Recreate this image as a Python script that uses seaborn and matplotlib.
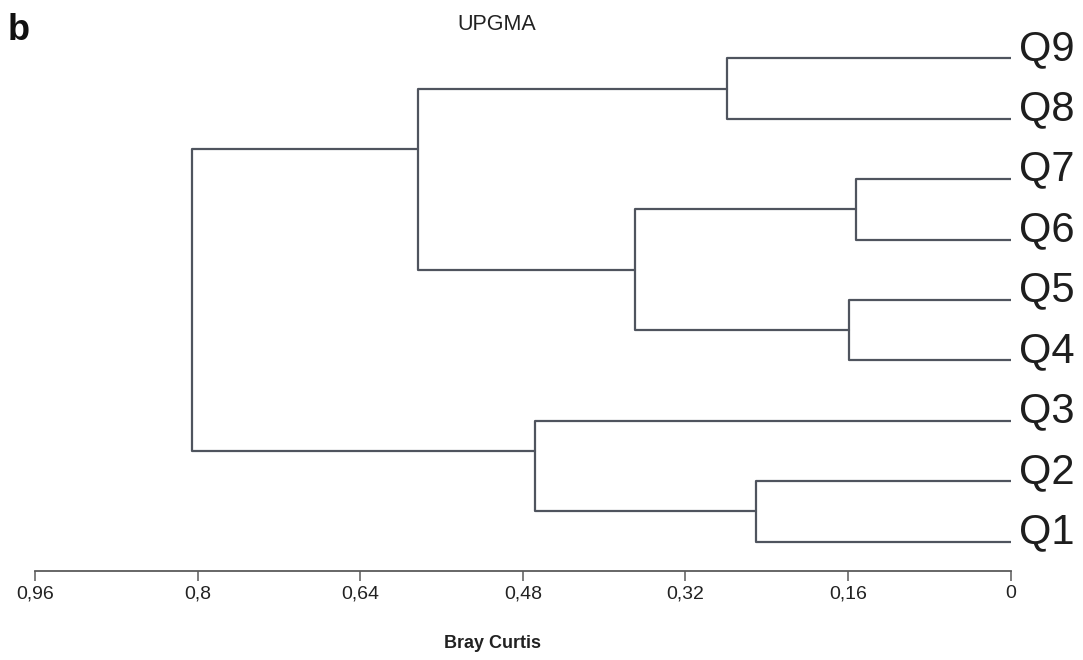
import matplotlib
matplotlib.use("Agg")
import matplotlib.pyplot as plt
import matplotlib.transforms as mtransforms
import seaborn as sns
import pandas as pd

# ---- data ----
leaves = ["Q1", "Q2", "Q3", "Q4", "Q5", "Q6", "Q7", "Q8", "Q9"]  # bottom to top
link_names = ["A", "B", "C", "D", "E", "F", "G", "H"]
link_left = ["Q7", "Q5", "Q2", "Q9", "A", "Q3", "D", "G"]
link_right = ["Q6", "Q4", "Q1", "Q8", "B", "C", "E", "F"]
link_height = [0.152, 0.159, 0.251, 0.279, 0.370, 0.468, 0.583, 0.806]
tick_values = [0.96, 0.8, 0.64, 0.48, 0.32, 0.16, 0]
tick_labels = ["0,96", "0,8", "0,64", "0,48", "0,32", "0,16", "0"]

# ---- build dendrogram segments (PAST-style node placement) ----
pos = {name: float(i) for i, name in enumerate(leaves)}
hgt = {name: 0.0 for name in leaves}
cnt = {name: 1 for name in leaves}
rows = []
for name, l, r, h in zip(link_names, link_left, link_right, link_height):
    yl, yr = pos[l], pos[r]
    pts = [(hgt[l], yl), (h, yl), (h, yr), (hgt[r], yr)]
    for k, (x, y) in enumerate(pts):
        rows.append({"link": name, "order": k, "dist": x, "pos": y})
    nl, nr = cnt[l], cnt[r]
    pos[name] = (yl * nr + yr * nl) / (nl + nr)
    hgt[name] = h
    cnt[name] = nl + nr
df = pd.DataFrame(rows)

# ---- style ----
sns.set_style("white")
plt.rcParams["font.family"] = ["Liberation Sans", "DejaVu Sans"]

fig = plt.figure(figsize=(10.83, 6.6), dpi=100)
W, H = 1083, 660
ax = fig.add_axes([35 / W, (H - 570.7) / H, 975.7 / W, (570.7 - 40) / H])

line_col = "#4f545e"
sns.lineplot(data=df, x="dist", y="pos", units="link", estimator=None,
             sort=False, color=line_col, linewidth=1.6, ax=ax)

ax.set_xlim(0.96, 0)
ax.set_ylim(-0.48, 8.303)
ax.set_xlabel("")
ax.set_ylabel("")
ax.set_yticks([])
ax.set_xticks(tick_values)
ax.set_xticklabels(tick_labels, fontsize=14, color="#222222")
ax.tick_params(axis="x", direction="out", length=7.5, width=1.1,
               color="#5a5a5a", pad=3, bottom=True)
for s in ["top", "left", "right"]:
    ax.spines[s].set_visible(False)
ax.spines["bottom"].set_color("#5a5a5a")
ax.spines["bottom"].set_linewidth(1.3)
ax.patch.set_alpha(0)

# leaf labels
off = mtransforms.offset_copy(ax.transData, fig=fig, x=8, y=-1.5, units="dots")
for i, name in enumerate(leaves):
    ax.text(0, i, name, transform=off, ha="left", va="baseline",
            fontsize=30, color="#1e1e1e", clip_on=False)

fig.text(497 / W, 1 - 24 / H, "UPGMA", ha="center", va="center",
         fontsize=15.5, color="#222222")
fig.text(492 / W, 1 - 644 / H, "Bray Curtis", ha="center", va="center",
         fontsize=13, fontweight="bold", color="#222222")
fig.text(8 / W, 1 - 40 / H, "b", ha="left", va="baseline",
         fontsize=26, fontweight="bold", color="#111111")

fig.savefig("out.png", dpi=100)
